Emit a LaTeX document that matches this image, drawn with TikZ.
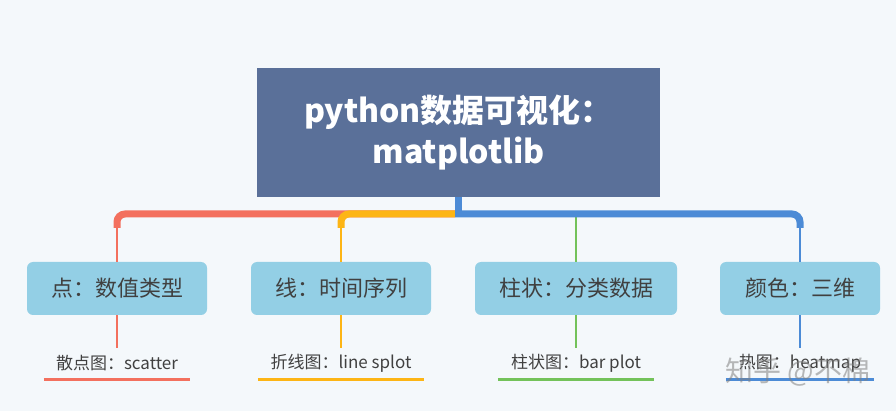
\documentclass[tikz,border=0pt]{standalone}
\usepackage{fontspec}
\setmainfont{Noto Sans CJK SC}
\usetikzlibrary{calc}
\definecolor{MapBg}{HTML}{F4F8FB}
\definecolor{MapRoot}{HTML}{5A7099}
\definecolor{MapTopic}{HTML}{93CFE5}
\definecolor{MapText}{HTML}{404040}
\definecolor{MapRed}{HTML}{F3705E}
\definecolor{MapOrange}{HTML}{FDB515}
\definecolor{MapGreen}{HTML}{73C25A}
\definecolor{MapBlue}{HTML}{4C8BD6}

\begin{document}
\begin{tikzpicture}[x=1pt, y=-1pt,
        root/.style={fill=MapRoot, minimum width=403pt, minimum height=129pt, text=white, align=center, font=\bfseries\fontsize{32}{41}\selectfont},
        topic/.style={fill=MapTopic, rounded corners=6pt, minimum height=53pt, text=MapText, font=\fontsize{22}{26}\selectfont},
        leaf/.style={minimum height=31pt, inner sep=0pt, text=MapText, font=\fontsize{17}{20}\selectfont},
        bus/.style={line width=7pt, rounded corners=8pt},
        stem/.style={line width=2.6pt},
        uline/.style={line width=2.6pt}
    ]
        \fill[MapBg] (0,0) rectangle (896,411);
        \useasboundingbox (0,0) rectangle (896,411);

        % Root
        \node[root] (root) at (458.5, 132.5) {python数据可视化：\\matplotlib};

        % Categories
        \node[topic, minimum width=180pt] (point) at (117, 288.5) {点：数值类型};
        \node[topic, minimum width=180pt] (line) at (341, 288.5) {线：时间序列};
        \node[topic, minimum width=202pt] (bar) at (576, 288.5) {柱状：分类数据};
        \node[topic, minimum width=160pt] (color) at (800, 288.5) {颜色：三维};

        % Leaves
        \node[leaf, minimum width=146pt] (scatter) at (117, 363.5) {散点图：scatter};
        \node[leaf, minimum width=166pt] (splot) at (341, 363.5) {折线图：line splot};
        \node[leaf, minimum width=156pt] (barplot) at (576, 363.5) {柱状图：bar plot};
        \node[leaf, minimum width=148pt] (heatmap) at (800, 363.5) {热图：heatmap};

        % Connections
        \coordinate (hub) at (455, 214);
        \draw[bus, MapRed] (hub) -| ([yshift=34pt]point.north);
        \draw[stem, MapRed] ([yshift=34pt]point.north) -- (point.north);
        \draw[bus, MapOrange] (hub) -| ([yshift=34pt]line.north);
        \draw[stem, MapOrange] ([yshift=34pt]line.north) -- (line.north);
        \draw[stem, MapGreen] (bar.north |- hub) -- (bar.north);
        \draw[bus, MapBlue] (hub) -| ([yshift=34pt]color.north);
        \draw[stem, MapBlue] ([yshift=34pt]color.north) -- (color.north);
        \draw[line width=7pt, MapBlue] (root.south) -- ([yshift=-3.5pt]root.south |- hub);

        \draw[stem, MapRed] (point.south) -- (scatter.north);
        \draw[stem, MapOrange] (line.south) -- (splot.north);
        \draw[stem, MapGreen] (bar.south) -- (barplot.north);
        \draw[stem, MapBlue] (color.south) -- (heatmap.north);

        \draw[uline, MapRed] (scatter.south west) -- (scatter.south east);
        \draw[uline, MapOrange] (splot.south west) -- (splot.south east);
        \draw[uline, MapGreen] (barplot.south west) -- (barplot.south east);
        \draw[uline, MapBlue] (heatmap.south west) -- (heatmap.south east);

        % Watermark
        \node[text=gray, text opacity=0.55, font=\fontsize{28}{30}\selectfont] (mark) at (798, 372) {知乎 @不棉};
    \end{tikzpicture}
\end{document}
